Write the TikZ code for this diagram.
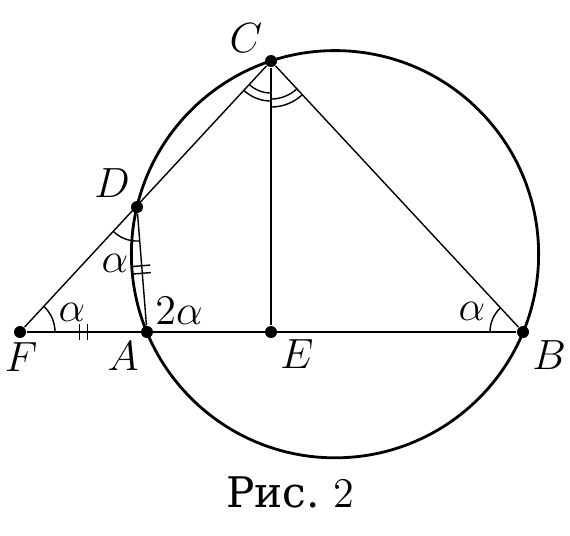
\documentclass[tikz,border=0pt]{standalone}
\usepackage{fontspec}
\newfontfamily\cyrfont{DejaVu Serif}
\usepackage{tikz}
\usetikzlibrary{angles, calc}
\tikzset{
  vertex/.style={circle, fill=black, inner sep=0pt, minimum size=0.12cm},
  circ/.style={draw, thick},
  side/.style={draw, thin},
  markarc/.style={draw, thin},
  hashmark/.style={draw, thin},
  ptlabel/.style={inner sep=0pt, font=\fontsize{12}{14}\selectfont},
}

\begin{document}
\begin{tikzpicture}[x=0.01cm, y=-0.01cm]
     \useasboundingbox (0,0) rectangle (570,535);
     \coordinate (O) at (335,254.2);
     \draw[circ] (O) circle (2.035cm);
     \node[vertex] (F) at (20,332)  {};
     \node[vertex] (A) at (147,332) {};
     \node[vertex] (E) at (271,332) {};
     \node[vertex] (B) at (523,332) {};
     \node[vertex] (C) at (271,61)  {};
     \node[vertex] (D) at (137,207) {};
     \draw[side] (F) -- (B);
     \draw[side] (F) -- (C);
     \draw[side] (C) -- (B);
     \draw[side] (C) -- (E);
     \draw[side] (D) -- (A);
     % angle marks
     \pic[markarc, angle radius=0.35cm] {angle=A--F--C};
     \pic[markarc, angle radius=0.33cm] {angle=C--B--A};
     \pic[markarc, angle radius=0.34cm] {angle=F--D--A};
     \pic[markarc, angle radius=0.32cm] {angle=F--C--E};
     \pic[markarc, angle radius=0.40cm] {angle=F--C--E};
     \pic[markarc, angle radius=0.38cm] {angle=E--C--B};
     \pic[markarc, angle radius=0.46cm] {angle=E--C--B};
     % equal sides FA = AD
     \draw[hashmark] ($(F)!0.47!(A)$) ++(0,-8) -- ++(0,16);
     \draw[hashmark] ($(F)!0.53!(A)$) ++(0,-8) -- ++(0,16);
     \draw[hashmark] ($(D)!0.47!(A)$) ++(-8.5,0.7) -- ++(17,-1.4);
     \draw[hashmark] ($(D)!0.53!(A)$) ++(-8.5,0.7) -- ++(17,-1.4);
     % labels
     \node[ptlabel] (labC) at (246,38)  {$C$};
     \node[ptlabel] (labD) at (112,183) {$D$};
     \node[ptlabel] (labF) at (21,357)  {$F$};
     \node[ptlabel] (labA) at (123,356) {$A$};
     \node[ptlabel] (labE) at (297,354) {$E$};
     \node[ptlabel] (labB) at (549,355) {$B$};
     \node[ptlabel] (angF) at (72,312)  {$\alpha$};
     \node[ptlabel] (angD) at (115,263) {$\alpha$};
     \node[ptlabel] (angB) at (472,311) {$\alpha$};
     \node[ptlabel] (angA) at (179,311) {$2\alpha$};
     \node[ptlabel] (caption) at (290,492) {{\cyrfont Рис.}~2};
\end{tikzpicture}
\end{document}
